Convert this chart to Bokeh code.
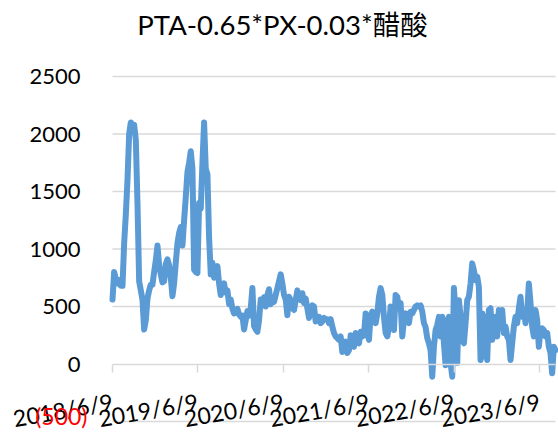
import pandas as pd
from bokeh.plotting import figure
from bokeh.models import (FixedTicker, CustomJSTickFormatter, Label, Range1d,
                          ColumnDataSource, LinearAxis, DatetimeAxis)
from bokeh.embed import file_html
from bokeh.resources import INLINE

title_text = "PTA-0.65*PX-0.03*醋酸"
start_date = "2018-06-09"
end_date = "2023-08-15"

values_2018_2019 = [560, 800, 740, 700, 730, 680, 680, 1050, 1300, 1600,
                    2000, 2100, 2060, 2080, 1950, 1400, 720, 640, 560, 300,
                    380, 570, 640, 690, 690, 800, 900, 1030, 860, 780,
                    710, 720, 870, 910, 860, 750, 590, 700, 880, 1050,
                    1140, 1190, 1030, 1250, 1450, 1670, 1750, 1850, 1700, 820,
                    800, 790]
values_2019_2020 = [1400, 1350, 1750, 2100, 1700, 1650, 1100, 780, 880, 750,
                    820, 850, 700, 600, 680, 700, 620, 640, 520, 560,
                    480, 440, 470, 480, 430, 410, 420, 300, 380, 460,
                    420, 480, 660, 330, 300, 280, 380, 560, 510, 580,
                    500, 600, 650, 520, 580, 540, 600, 660, 720, 780,
                    700, 600]
values_2020_2021 = [560, 425, 585, 555, 485, 470, 555, 640, 585, 555,
                    615, 530, 570, 485, 400, 470, 510, 500, 370, 410,
                    410, 355, 370, 400, 390, 390, 355, 390, 325, 270,
                    240, 225, 210, 240, 105, 120, 195, 95, 120, 250,
                    180, 150, 270, 225, 180, 280, 240, 250, 440, 270,
                    210, 425, 455, 410]
values_2021_2022 = [355, 440, 585, 660, 600, 410, 270, 240, 325, 500,
                    410, 295, 600, 585, 485, 530, 240, 380, 440, 425,
                    355, 455, 440, 470, 500, 510, 500, 510, 455, 355,
                    320, 225, 180, 120, -110, 150, 295, 340, 410, 240,
                    410, 180, -10, 370, 410, 10, -110, 660, 450, 10]
values_2022_2023 = [555, 410, 210, 180, 355, 555, 585, 700, 875, 815,
                    730, 760, 670, 35, 440, 65, 410, 35, 470, 485,
                    210, 325, 410, 240, 470, 410, 470, 270, 325, 240,
                    210, 35, 180, 325, 410, 355, 485, 585, 410, 470,
                    355, 440, 700, 530, 325, 240, 470, 380, 150, 295,
                    310, 295, 240, 270, 150, 95, -80, 150, 120]

values = (values_2018_2019 + values_2019_2020 + values_2020_2021
          + values_2021_2022 + values_2022_2023)
dates = pd.date_range(start_date, end_date, periods=len(values))

x_tick_labels = ["2018/6/9", "2019/6/9", "2020/6/9", "2021/6/9", "2022/6/9", "2023/6/9"]
y_ticks = [0, 500, 1000, 1500, 2000, 2500]
y_grid_ticks = [-500, 500, 1000, 1500, 2000, 2500]
y_negative_ticks = [-500]
y_min, y_max = -500, 2500

# ---- layout (pixels) ----
W, H = 558, 432
plot_left, plot_right = 112, 555
plot_top, plot_bottom = 76, 421

font = "Lato, 'Noto Sans CJK SC', sans-serif"
grid_color = "#d9d9d9"

t0 = pd.Timestamp(start_date)
t1 = pd.Timestamp(end_date)
ms_per_px = (t1 - t0) / pd.Timedelta(milliseconds=1) / (plot_right - plot_left)
t0_ms = t0.value / 1e6
t1_ms = t1.value / 1e6
x_start = t0_ms - plot_left * ms_per_px
x_end = t1_ms + (W - plot_right) * ms_per_px
u_per_px = (y_max - y_min) / (plot_bottom - plot_top)
y_lo = y_min - (H - plot_bottom) * u_per_px
y_hi = y_max + plot_top * u_per_px

source = ColumnDataSource(dict(date=dates, value=values))

p = figure(width=W, height=H, output_backend="svg", toolbar_location=None,
           x_axis_type="datetime", x_axis_location=None, y_axis_location=None,
           x_range=Range1d(x_start, x_end), y_range=Range1d(y_lo, y_hi),
           min_border=0)
p.outline_line_color = None
p.background_fill_color = "white"
p.border_fill_color = "white"
p.xgrid.visible = False
p.ygrid.visible = False

# horizontal grid lines over the plot area
p.segment(x0=[t0] * len(y_grid_ticks), x1=[t1] * len(y_grid_ticks),
          y0=y_grid_ticks, y1=y_grid_ticks, line_color=grid_color, line_width=1.5)

p.line("date", "value", source=source, line_color="#5B9BD5", line_width=6,
       line_join="round", line_cap="round")

# negative label, accounting style in red
yn = LinearAxis(fixed_location=t0_ms)
yn.ticker = FixedTicker(ticks=y_negative_ticks)
yn.formatter = CustomJSTickFormatter(code="return '(' + Math.abs(tick) + ')';")
yn.axis_line_color = None
yn.major_tick_line_color = None
yn.minor_tick_line_color = None
yn.major_tick_out = 0
yn.major_tick_in = 0
yn.major_label_standoff = 25
yn.major_label_text_font = font
yn.major_label_text_font_size = "23px"
yn.major_label_text_color = "#FF0000"
p.add_layout(yn, "left")

# x axis at y = 0
tick_ms = [pd.Timestamp(s.replace("/", "-")).value / 1e6 for s in x_tick_labels]
xa = DatetimeAxis(fixed_location=0, bounds=(t0_ms, t1_ms))
xa.ticker = FixedTicker(ticks=tick_ms)
xa.formatter = CustomJSTickFormatter(code="""
const d = new Date(tick);
return d.getUTCFullYear() + '/' + (d.getUTCMonth() + 1) + '/' + d.getUTCDate();
""")
xa.axis_line_color = grid_color
xa.axis_line_width = 1.5
xa.major_tick_line_color = grid_color
xa.major_tick_line_width = 1.5
xa.major_tick_in = 0
xa.major_tick_out = 8
xa.minor_tick_line_color = None
xa.major_label_orientation = 0.1745
xa.major_label_standoff = 29
xa.major_label_text_font = font
xa.major_label_text_font_size = "23px"
xa.major_label_text_color = "#000000"
p.add_layout(xa, "below")

# y axis labels (positive)
ya = LinearAxis(fixed_location=t0_ms)
ya.ticker = FixedTicker(ticks=y_ticks)
ya.axis_line_color = None
ya.major_tick_line_color = None
ya.minor_tick_line_color = None
ya.major_tick_out = 0
ya.major_tick_in = 0
ya.major_label_standoff = 32
ya.major_label_text_font = font
ya.major_label_text_font_size = "22px"
ya.major_label_text_color = "#000000"
p.add_layout(ya, "left")

p.add_layout(Label(x=282, y=H - 24, x_units="screen", y_units="screen",
                   text=title_text, text_color="#000000", text_align="center",
                   text_baseline="middle", text_font=font, text_font_size="27.5px"))

open("out.html", "w").write(file_html(p, INLINE))
